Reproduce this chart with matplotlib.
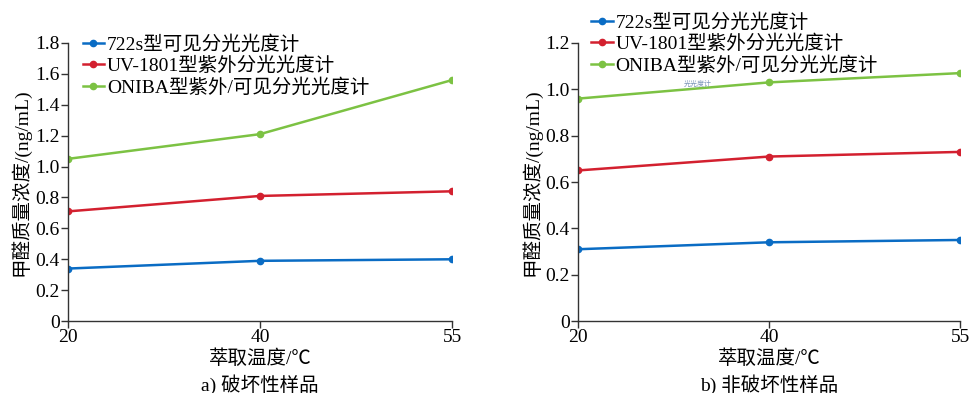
import matplotlib
matplotlib.use("Agg")
import matplotlib.pyplot as plt

plt.rcParams['font.family'] = ['Liberation Serif', 'Noto Sans CJK SC']
plt.rcParams['axes.unicode_minus'] = False

temps = ['20', '40', '55']
series_names = ['722s型可见分光光度计', 'UV-1801型紫外分光光度计', 'ONIBA型紫外/可见分光光度计']
colors = ['#0a6cc4', '#d3202f', '#7cc243']

# a) 破坏性样品
vals_a_722s = [0.34, 0.39, 0.40]
vals_a_uv1801 = [0.71, 0.81, 0.84]
vals_a_oniba = [1.05, 1.21, 1.56]

# b) 非破坏性样品
vals_b_722s = [0.31, 0.34, 0.35]
vals_b_uv1801 = [0.65, 0.71, 0.73]
vals_b_oniba = [0.96, 1.03, 1.07]

fig = plt.figure(figsize=(9.71, 3.93), dpi=100)
ax1 = fig.add_axes([0.070, 0.183, 0.3955, 0.7076])
ax2 = fig.add_axes([0.5953, 0.183, 0.3934, 0.7076])

panels = [
    (ax1, [vals_a_722s, vals_a_uv1801, vals_a_oniba], 1.8, 'a) 破坏性样品', (0.085, 0.910)),
    (ax2, [vals_b_722s, vals_b_uv1801, vals_b_oniba], 1.2, 'b) 非破坏性样品', (0.609, 0.966)),
]

for ax, data, ymax, sub, leg_pos in panels:
    x = list(range(len(temps)))
    for vals, name, c in zip(data, series_names, colors):
        ax.plot(x, vals, color=c, lw=1.8, marker='o', ms=4.5, label=name)
    ax.set_xlim(0, len(temps) - 1)
    ax.set_ylim(0, ymax)
    ax.set_xticks(x)
    ax.set_xticklabels(temps)
    n = int(round(ymax / 0.2))
    ax.set_yticks([i * 0.2 for i in range(n + 1)])
    ax.set_yticklabels(['0'] + ['%.1f' % (i * 0.2) for i in range(1, n + 1)])
    for s in ['top', 'right']:
        ax.spines[s].set_visible(False)
    for s in ['left', 'bottom']:
        ax.spines[s].set_color('#333333')
        ax.spines[s].set_linewidth(1.0)
    ax.tick_params(direction='out', length=5, width=1, color='#333333',
                   labelsize=14, pad=1)
    ax.set_xlabel('萃取温度/℃', fontsize=14, labelpad=2)
    ax.set_ylabel('甲醛质量浓度/(ng/mL)', fontsize=14, labelpad=3)
    ax.text(0.5, -0.19, sub, transform=ax.transAxes, ha='center', va='top', fontsize=14)
    ax.legend(loc='upper left', bbox_to_anchor=leg_pos, bbox_transform=fig.transFigure,
              frameon=False, fontsize=14, handlelength=1.1, handletextpad=0.15,
              labelspacing=0.15, borderpad=0, borderaxespad=0)

ax2.text(0.277, 0.856, '光光度计', transform=ax2.transAxes, fontsize=5,
         color='#7a95b8', ha='left', va='center')

fig.savefig('out.png', dpi=100)
